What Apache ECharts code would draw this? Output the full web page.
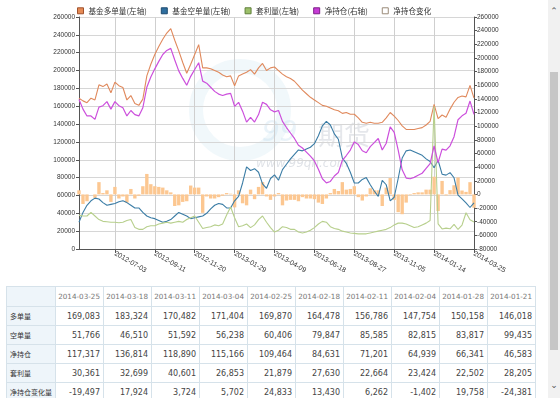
<!DOCTYPE html>
<html>
<head>
<meta charset="utf-8">
<script src="https://cdn.jsdelivr.net/npm/echarts@6/dist/echarts.min.js"></script>
<style>
html,body{margin:0;padding:0;width:560px;height:398px;overflow:hidden;background:#fff;}
#main{position:absolute;left:0;top:0;width:548px;height:284px;}
#tbl{position:absolute;left:6px;top:286px;width:529px;border-collapse:collapse;table-layout:fixed;border:1px solid #9ccbe0;}
#tbl td{border:1px solid #d6e2ea;height:18px;padding:0 3px 0 0;text-align:right;font:8px "DejaVu Sans",Verdana,sans-serif;color:#444;white-space:nowrap;overflow:hidden;}
#tbl tr.head td{height:19px;font-size:7.2px;color:#777;}
#tbl td.name{text-align:left;padding-left:3px;font:7px "Noto Sans CJK SC",sans-serif;color:#333;background:#eef5fa;}
#sb{position:absolute;left:548px;top:0;width:12px;height:398px;background:#f1f1f1;}
#thumb{position:absolute;left:2px;top:72px;width:8px;height:278px;background:#c6c6c6;}
.arr{position:absolute;left:0;width:12px;text-align:center;font:9px "DejaVu Sans",sans-serif;color:#555;}
</style>
</head>
<body>
<div id="main"></div>
<table id="tbl"></table>
<div id="sb"><div class="arr" style="top:6px">&#8963;</div><div id="thumb"></div><div class="arr" style="top:380px">&#8964;</div></div>
<script>
var dates = ['2012-05-01','2012-05-08','2012-05-15','2012-05-22','2012-05-29','2012-06-05','2012-06-12','2012-06-19','2012-06-26','2012-07-03',
  '2012-07-10','2012-07-17','2012-07-24','2012-07-31','2012-08-07','2012-08-14','2012-08-21','2012-08-28','2012-09-04','2012-09-11',
  '2012-09-18','2012-09-25','2012-10-02','2012-10-09','2012-10-16','2012-10-23','2012-10-30','2012-11-06','2012-11-13','2012-11-20',
  '2012-11-27','2012-12-04','2012-12-11','2012-12-18','2012-12-25','2013-01-01','2013-01-08','2013-01-15','2013-01-22','2013-01-29',
  '2013-02-05','2013-02-12','2013-02-19','2013-02-26','2013-03-05','2013-03-12','2013-03-19','2013-03-26','2013-04-02','2013-04-09',
  '2013-04-16','2013-04-23','2013-04-30','2013-05-07','2013-05-14','2013-05-21','2013-05-28','2013-06-04','2013-06-11','2013-06-18',
  '2013-06-25','2013-07-02','2013-07-09','2013-07-16','2013-07-23','2013-07-30','2013-08-06','2013-08-13','2013-08-20','2013-08-27',
  '2013-09-03','2013-09-10','2013-09-17','2013-09-24','2013-10-01','2013-10-08','2013-10-15','2013-10-22','2013-10-29','2013-11-05',
  '2013-11-12','2013-11-19','2013-11-26','2013-12-03','2013-12-10','2013-12-17','2013-12-24','2013-12-31','2014-01-07','2014-01-14',
  '2014-01-21','2014-01-28','2014-02-04','2014-02-11','2014-02-18','2014-02-25','2014-03-04','2014-03-11','2014-03-18','2014-03-25'];

// 基金多单量
var longPos = [169000,166000,164000,169000,167000,184000,182000,185000,175000,187000,
  183000,181000,167000,172000,163000,161000,168000,194000,207000,218000,
  227000,235000,242000,247000,234000,222000,209000,197000,207000,218000,
  229000,203000,203000,202000,200000,198000,195000,193000,194000,183000,
  194000,196000,198000,201000,196000,203000,208000,200000,203000,204000,
  200000,196000,193000,191000,188000,183000,178000,174000,170000,167000,
  164000,161000,160000,158000,156000,155000,152000,153000,151000,151000,
  147000,142000,141000,142000,141000,141000,142000,147000,153000,149000,
  144000,138000,134000,134000,134000,135000,136000,139000,143000,162000,
  146018,150158,147754,156786,164478,169870,171404,170482,183324,169083];

// 基金空单量
var shortPos = [30000,41000,49000,54000,57000,56000,52000,49000,50000,51000,
  53000,54000,52000,49000,46000,46000,41000,37000,35000,34000,
  32000,30000,31000,33000,37000,41000,39000,37000,34000,35000,
  36000,37000,40000,45000,49000,51000,50000,46000,46000,54000,
  59000,74000,92000,88000,90000,86000,73000,68000,79000,83000,
  77000,89000,95000,101000,106000,111000,110000,112000,114000,118000,
  127000,138000,143000,139000,129000,123000,102000,96000,86000,74000,
  74000,78000,80000,72000,65000,59000,77000,72000,54000,58000,
  79000,102000,110000,111000,109000,107000,105000,101000,98000,91036,
  99435,83817,82815,85585,79847,60406,56238,51592,46510,51766];

// 套利量
var arbPos = [38000,37000,37000,41000,37000,33000,31000,30500,30000,30000,
  29500,30000,32000,33000,24000,22000,22000,25000,26000,26000,
  28000,29000,30000,29000,30000,31000,30000,33000,35000,37000,
  30000,23000,24000,25000,27000,26000,28000,38000,47000,35000,
  25000,26000,28000,24000,27000,33000,37000,30000,24000,19000,
  21000,25000,24000,22000,22000,19000,18000,19000,21000,24000,
  28000,31000,30000,25000,23000,22000,20000,19000,18000,17500,
  17000,17000,17000,18000,19000,20000,21000,22000,24000,27000,
  29000,29000,28000,26000,24000,25000,27000,29000,32000,160000,
  28205,22502,23424,22664,27630,21879,26853,40601,32699,30361];

// 净持仓
var netPos = [139000,125000,115000,115000,110000,128000,130000,136000,125000,136000,
  130000,127000,115000,123000,117000,115000,127000,157000,172000,184000,
  195000,205000,211000,214000,197000,181000,170000,160000,173000,183000,
  193000,166000,163000,157000,151000,147000,145000,147000,148000,129000,
  135000,122000,106000,113000,106000,117000,135000,132000,124000,121000,
  123000,107000,98000,90000,82000,72000,68000,62000,56000,49000,
  37000,23000,17000,19000,27000,32000,50000,57000,65000,77000,
  73000,64000,61000,70000,76000,82000,65000,75000,99000,91000,
  65000,36000,24000,23000,25000,28000,31000,38000,45000,70964,
  46583,66341,64939,71201,84631,109464,115166,118890,136814,117317];

// 净持仓变化
var netChange = [6000,-14000,-10000,0,-5000,18000,2000,6000,-11000,11000,
  -6000,-3000,-12000,8000,-6000,-2000,12000,30000,15000,12000,
  11000,10000,6000,3000,-17000,-16000,-11000,-10000,13000,10000,
  10000,-27000,-3000,-6000,-6000,-4000,-2000,2000,1000,-19000,
  6000,-13000,-16000,7000,-7000,11000,18000,-3000,-8000,-3000,
  2000,-16000,-9000,-8000,-8000,-10000,-4000,-6000,-6000,-7000,
  -12000,-14000,-6000,2000,8000,5000,18000,7000,8000,12000,
  -4000,-9000,-3000,9000,6000,6000,-17000,10000,24000,-8000,
  -26000,-29000,-12000,-1000,2000,3000,3000,7000,7000,25964,
  -24381,19758,-1402,6262,13430,24833,5702,3724,17924,-19497];

var rowNames = ['多单量','空单量','净持仓','套利量','净持仓变化量'];
var rowData = [longPos, shortPos, netPos, arbPos, netChange];

// table: last 10 weeks, newest first
var tbl = document.getElementById('tbl');
var html = '<colgroup><col style="width:49px">';
for (var c = 0; c < 10; c++) html += '<col style="width:48px">';
html += '</colgroup><tr class="head"><td class="name"></td>';
for (var k = dates.length - 1; k >= dates.length - 10; k--) html += '<td>' + dates[k] + '</td>';
html += '</tr>';
for (var r = 0; r < rowNames.length; r++) {
  html += '<tr><td class="name">' + rowNames[r] + '</td>';
  for (var k = dates.length - 1; k >= dates.length - 10; k--) {
    html += '<td>' + rowData[r][k].toLocaleString('en-US') + '</td>';
  }
  html += '</tr>';
}
tbl.innerHTML = html;

var showIdx = function (idx) { return idx % 10 === 9; };
var plain = function (v) { return String(v); };
var axisFont = 'Liberation Sans, Arial, sans-serif';

var chart = echarts.init(document.getElementById('main'));
chart.setOption({
  animation: false,
  backgroundColor: '#fff',
  legend: {
    left: 72, top: 2,
    itemWidth: 6, itemHeight: 6, itemGap: 14,
    textStyle: {fontSize: 7.6, color: '#333', fontFamily: 'Noto Sans CJK SC'},
    data: [
      {name: '基金多单量(左轴)', icon: 'rect', itemStyle: {color: '#e58a55', borderColor: '#a0522d', borderWidth: 1}},
      {name: '基金空单量(左轴)', icon: 'rect', itemStyle: {color: '#2f6f9f', borderColor: '#1d4a70', borderWidth: 1}},
      {name: '套利量(左轴)', icon: 'rect', itemStyle: {color: '#9cc06a', borderColor: '#5f7f3a', borderWidth: 1}},
      {name: '净持仓(右轴)', icon: 'rect', itemStyle: {color: '#c73bd6', borderColor: '#7d1f88', borderWidth: 1}},
      {name: '净持仓变化', icon: 'rect', itemStyle: {color: '#fff', borderColor: '#9a8a78', borderWidth: 1}}
    ]
  },
  graphic: [
    {type: 'circle', shape: {cx: 240, cy: 110, r: 44}, silent: true, z: 0,
      style: {fill: 'none', stroke: 'rgba(190,222,238,0.22)', lineWidth: 14}},
    {type: 'text', left: 262, top: 120, silent: true, z: 0,
      style: {text: '99', fontSize: 28, fontStyle: 'italic', fill: 'rgba(185,215,235,0.3)', fontFamily: 'DejaVu Sans'}},
    {type: 'text', left: 318, top: 122, silent: true, z: 0,
      style: {text: '期货', fontSize: 26, fill: 'rgba(150,160,175,0.25)', fontFamily: 'Noto Sans CJK SC'}},
    {type: 'text', left: 256, top: 158, silent: true, z: 0,
      style: {text: 'www.99qh.com', fontSize: 12, fontStyle: 'italic', fill: 'rgba(150,160,175,0.3)', fontFamily: 'DejaVu Sans'}}
  ],
  grid: {left: 79, top: 17, width: 395, height: 232},
  xAxis: {
    type: 'category',
    boundaryGap: false,
    data: dates,
    axisLine: {lineStyle: {color: '#555'}},
    axisTick: {interval: showIdx, length: 4, lineStyle: {color: '#555'}},
    axisLabel: {interval: showIdx, rotate: -30, fontSize: 7, color: '#333', fontFamily: axisFont, margin: 4},
    splitLine: {show: true, interval: showIdx, lineStyle: {color: '#cfcfcf'}}
  },
  yAxis: [
    {
      type: 'value', min: 0, max: 260000, interval: 20000,
      axisLine: {show: true, lineStyle: {color: '#555'}},
      axisTick: {show: true, length: 3, lineStyle: {color: '#555'}},
      axisLabel: {fontSize: 6.5, color: '#333', fontFamily: axisFont, margin: 4, formatter: plain},
      splitLine: {lineStyle: {color: '#d6d6d6'}}
    },
    {
      type: 'value', position: 'right', min: -80000, max: 260000, interval: 20000,
      axisLine: {show: true, lineStyle: {color: '#555'}},
      axisTick: {show: true, length: 3, lineStyle: {color: '#555'}},
      axisLabel: {fontSize: 6.5, color: '#333', fontFamily: axisFont, margin: 3, formatter: plain},
      splitLine: {show: false}
    }
  ],
  series: [
    {name: '净持仓变化', type: 'bar', yAxisIndex: 1, data: netChange, barWidth: '85%',
      itemStyle: {color: '#fcc791'}, z: 1},
    {name: '基金多单量(左轴)', type: 'line', yAxisIndex: 0, data: longPos, showSymbol: false,
      lineStyle: {width: 1.1, color: '#e0895c'}, itemStyle: {color: '#e0895c'}},
    {name: '基金空单量(左轴)', type: 'line', yAxisIndex: 0, data: shortPos, showSymbol: false,
      lineStyle: {width: 1.1, color: '#3a7ca5'}, itemStyle: {color: '#3a7ca5'}},
    {name: '套利量(左轴)', type: 'line', yAxisIndex: 0, data: arbPos, showSymbol: false,
      lineStyle: {width: 1.1, color: '#b7cf8c'}, itemStyle: {color: '#b7cf8c'}},
    {name: '净持仓(右轴)', type: 'line', yAxisIndex: 1, data: netPos, showSymbol: false,
      lineStyle: {width: 1.2, color: '#cc4fdc'}, itemStyle: {color: '#cc4fdc'}}
  ]
});
</script>
</body>
</html>
